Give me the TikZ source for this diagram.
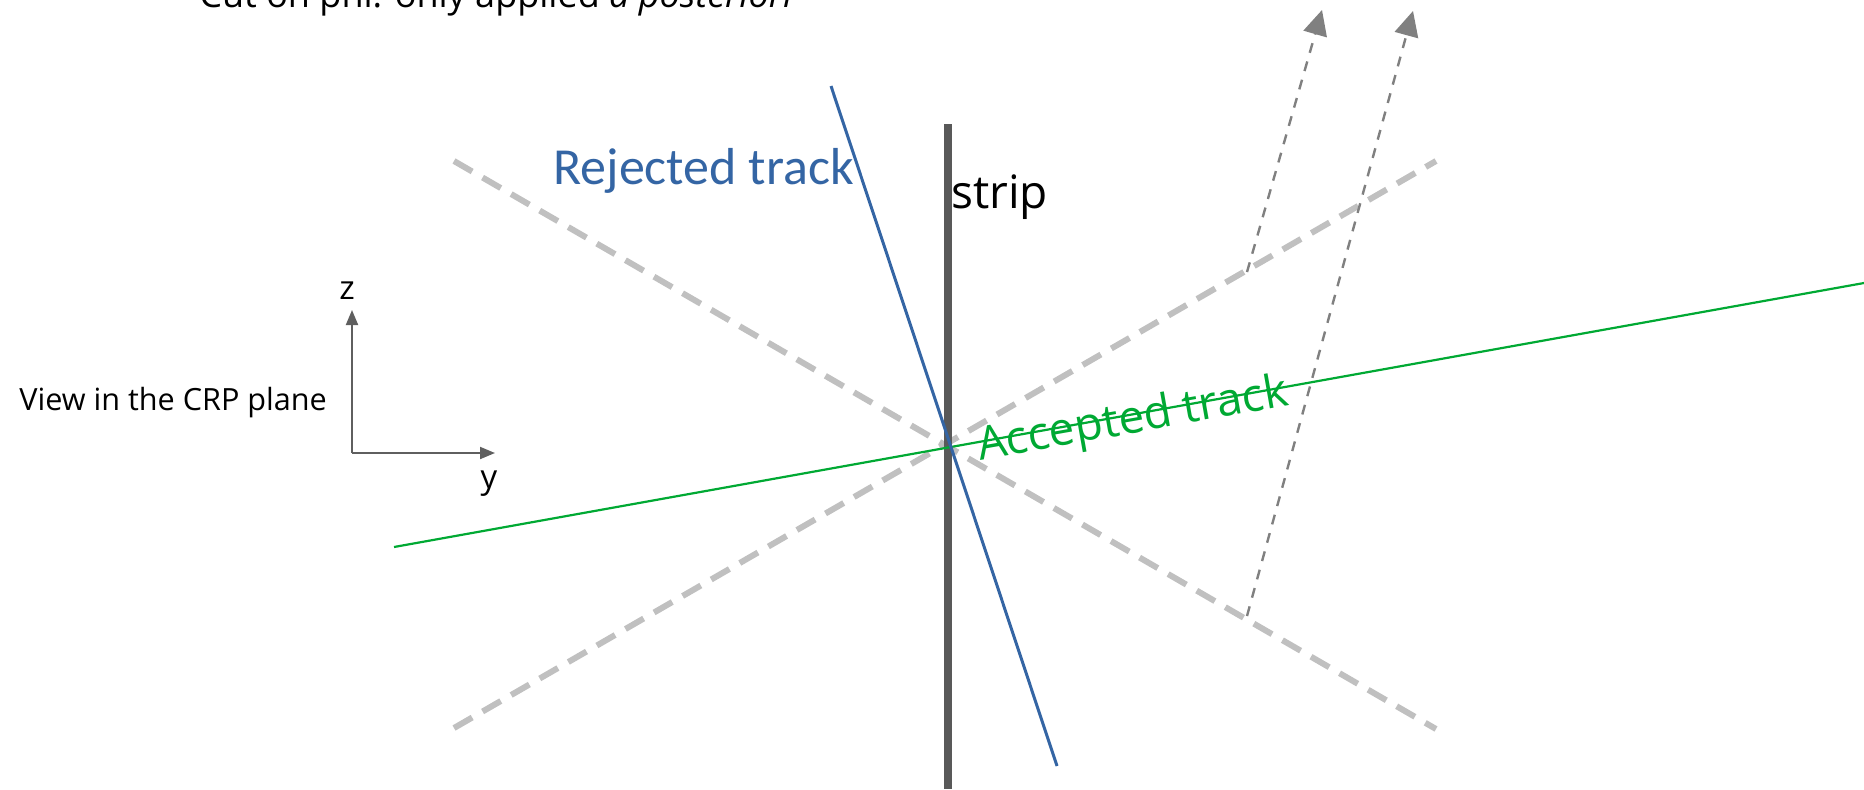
\documentclass[tikz,border=0pt]{standalone}
\usepackage{fontspec}
\setmainfont{Open Sans}
\newfontfamily\carlito{Carlito}
\usetikzlibrary{arrows.meta, positioning, calc}
\definecolor{trkblue}{RGB}{52, 101, 164}
\definecolor{trkgreen}{RGB}{0, 169, 51}
\definecolor{stripgray}{RGB}{89, 89, 89}
\definecolor{conegray}{RGB}{192, 192, 192}
\definecolor{projgray}{RGB}{128, 128, 128}
\definecolor{axisgray}{RGB}{95, 95, 95}

\begin{document}
\begin{tikzpicture}[x=0.5pt, y=-0.5pt, >={Triangle[length=7.5pt, width=6pt]},
  cone/.style={conegray, line width=3pt, dash pattern=on 10.5pt off 6pt},
  proj/.style={projgray, line width=1.2pt, dash pattern=on 5pt off 4.5pt,
    -{Triangle[length=12.5pt, width=12pt]}},
  biglbl/.style={inner sep=0pt, font=\fontsize{23}{27}\selectfont},
  smalllbl/.style={inner sep=0pt, font=\fontsize{15.3}{19}\selectfont}]

  \useasboundingbox (0,0) rectangle (1864,789);

  % --- cone of accepted directions ---
  \coordinate (cone nw) at (454,161);
  \coordinate (cone se) at (1436,729);
  \coordinate (cone sw) at (454,728);
  \coordinate (cone ne) at (1436,161);
  \draw[cone] (cone nw) -- (cone se);
  \draw[cone] (cone sw) -- (cone ne);

  % --- strip ---
  \coordinate (strip top) at (948,124);
  \coordinate (strip bot) at (948,789);
  \draw[stripgray, line width=4pt] (strip top) -- (strip bot);
  \node[biglbl, anchor=base west] (striplbl) at (951,208) {strip};

  % --- tracks ---
  \coordinate (acc a) at (394,547);
  \coordinate (acc b) at (1864,283);
  \draw[trkgreen, line width=1.1pt] (acc a) -- (acc b);
  \node[biglbl, text=trkgreen, rotate=10] (acclbl) at (1133,421) {Accepted track};

  \coordinate (rej a) at (831,86);
  \coordinate (rej b) at (1057,766);
  \draw[trkblue, line width=1.5pt] (rej a) -- (rej b);
  \node[inner sep=0pt, anchor=base west, text=trkblue,
    font=\carlito\fontsize{26}{30}\selectfont] (rejlbl) at (553,184) {Rejected track};

  % --- projections (dashed arrows) ---
  \coordinate (proj1 foot) at (1247,272);
  \coordinate (proj1 tip) at (1322,10);
  \coordinate (proj2 foot) at (1247,616);
  \coordinate (proj2 tip) at (1413,11);
  \draw[proj] (proj1 foot) -- (proj1 tip);
  \draw[proj] (proj2 foot) -- (proj2 tip);

  % --- axes ---
  \coordinate (origin) at (352,453);
  \coordinate (ztip) at (352,310);
  \coordinate (ytip) at (495,453);
  \draw[->, axisgray, line width=1pt] (origin) -- (ztip);
  \draw[->, axisgray, line width=1pt] (origin) -- (ytip);
  \node[inner sep=0pt, font=\fontsize{16.5}{20}\selectfont, above=5pt of ztip,
    xshift=-2.5pt] (zlbl) {z};
  \node[inner sep=0pt, font=\fontsize{16.5}{20}\selectfont, below=8.5pt of ytip,
    xshift=-3pt] (ylbl) {y};
  \node[smalllbl, anchor=base west] (viewlbl) at (19,410) {View in the CRP plane};

  % --- title (cut off at the top) ---
  \node[inner sep=0pt, anchor=base west, font=\fontsize{18}{22}\selectfont]
    (title) at (199,7.5) {Cut on phi: only applied \textit{a posteriori}};

\end{tikzpicture}
\end{document}
